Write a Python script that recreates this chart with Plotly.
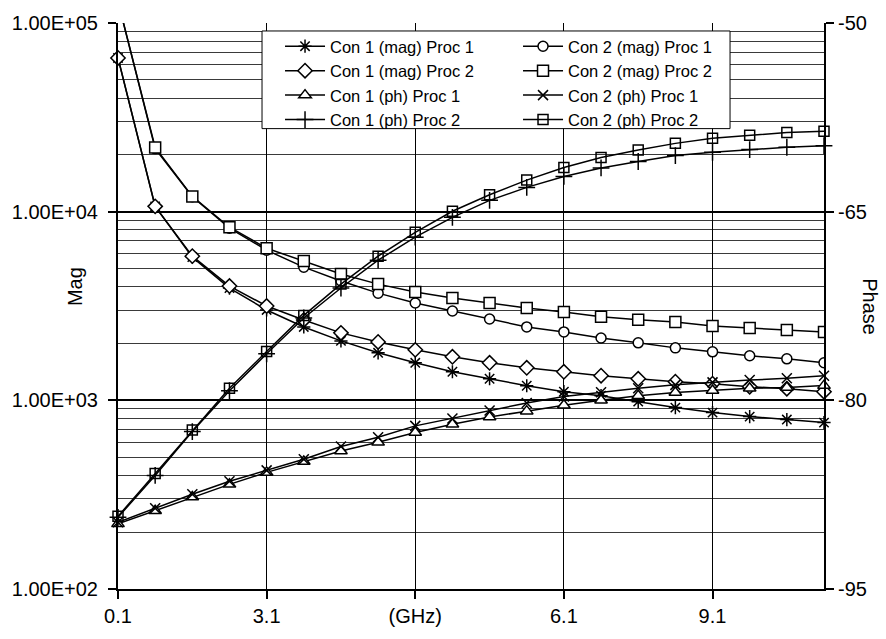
import plotly.graph_objects as go

# ---------------- data ----------------
n_points = 20
x_idx = list(range(n_points))
tick_idx = [0, 4, 8, 12, 16]
tick_labels = ["0.1", "3.1", "(GHz)", "6.1", "9.1"]

mag_ticks = [100, 1000, 10000, 100000]
mag_tick_labels = ["1.00E+02", "1.00E+03", "1.00E+04", "1.00E+05"]
mag_minor = [200, 300, 400, 500, 600, 700, 800, 900,
             2000, 3000, 4000, 5000, 6000, 7000, 8000, 9000,
             20000, 30000, 40000, 50000, 60000, 70000, 80000, 90000]
phase_ticks = [-95, -80, -65, -50]
phase_tick_labels = ["-95", "-80", "-65", "-50"]

con1_mag_proc1 = [65300, 10670, 5740, 3936, 3013, 2449, 2066, 1786, 1581, 1417,
                  1301, 1195, 1111, 1059, 984, 915, 861, 820, 791, 762]
con2_mag_proc1 = [130000, 21600, 12000, 8170, 6250, 5080, 4290, 3700, 3280, 2975,
                  2700, 2450, 2305, 2140, 2017, 1897, 1807, 1722, 1660, 1581]
con1_mag_proc2 = [65300, 10670, 5810, 4034, 3162, 2667, 2278, 2040, 1852, 1701,
                  1581, 1488, 1417, 1350, 1301, 1255, 1225, 1181, 1153, 1111]
con2_mag_proc2 = [130000, 21900, 12050, 8270, 6400, 5470, 4670, 4130, 3750, 3490,
                  3280, 3085, 2940, 2770, 2670, 2600, 2480, 2420, 2360, 2300]

con1_ph_proc1 = [-89.82, -88.78, -87.69, -86.68, -85.73, -84.86, -84.03, -83.34, -82.56, -81.90,
                 -81.33, -80.86, -80.39, -80.00, -79.63, -79.38, -79.22, -79.04, -78.98, -78.83]
con2_ph_proc1 = [-89.69, -88.58, -87.47, -86.44, -85.57, -84.68, -83.67, -82.94, -82.03, -81.44,
                 -80.81, -80.21, -79.69, -79.35, -79.04, -78.77, -78.57, -78.39, -78.25, -78.05]
con1_ph_proc2 = [-89.30, -85.97, -82.48, -79.24, -76.30, -73.45, -71.07, -68.86, -67.03, -65.45,
                 -64.10, -63.07, -62.20, -61.52, -61.01, -60.54, -60.28, -60.06, -59.88, -59.75]
con2_ph_proc2 = [-89.22, -85.81, -82.36, -79.04, -76.11, -73.25, -70.76, -68.54, -66.64, -64.97,
                 -63.66, -62.49, -61.49, -60.70, -60.09, -59.57, -59.17, -58.92, -58.71, -58.60]

FONT = "Liberation Sans, Arial, sans-serif"

# (name, values, axis, symbol, size, fill, clip, legend column)
series = [
    ("Con 1 (mag) Proc 1", con1_mag_proc1, "y", "asterisk-open", 11, "black", False, "legend"),
    ("Con 1 (mag) Proc 2", con1_mag_proc2, "y", "diamond", 11, "white", False, "legend"),
    ("Con 1 (ph) Proc 1", con1_ph_proc1, "y2", "triangle-up", 11, "white", False, "legend"),
    ("Con 1 (ph) Proc 2", con1_ph_proc2, "y2", "cross-thin-open", 12, "black", False, "legend"),
    ("Con 2 (mag) Proc 1", con2_mag_proc1, "y", "circle", 10, "white", True, "legend2"),
    ("Con 2 (mag) Proc 2", con2_mag_proc2, "y", "square", 11, "white", True, "legend2"),
    ("Con 2 (ph) Proc 1", con2_ph_proc1, "y2", "x-thin-open", 10, "black", False, "legend2"),
    ("Con 2 (ph) Proc 2", con2_ph_proc2, "y2", "square-open", 10, "black", False, "legend2"),
]

fig = go.Figure()
for name, vals, ax, sym, size, fill, clip, leg in series:
    fig.add_trace(go.Scatter(
        x=x_idx, y=vals, name=name, yaxis=ax, mode="lines+markers",
        line=dict(color="black", width=1.5),
        marker=dict(symbol=sym, size=size, color=fill,
                    line=dict(color="black", width=1.5)),
        cliponaxis=clip, legend=leg,
    ))

leg_common = dict(
    orientation="v", yanchor="top", xanchor="left",
    bgcolor="rgba(0,0,0,0)", borderwidth=0,
    font=dict(family=FONT, size=16.5, color="black"),
    itemwidth=40, traceorder="normal",
)

TICKFONT = dict(family=FONT, size=20, color="black")

fig.update_layout(
    width=886, height=639,
    margin=dict(l=118, r=62, t=22, b=49),
    paper_bgcolor="white", plot_bgcolor="white",
    font=dict(family=FONT, size=20, color="black"),
    showlegend=True,
    legend=dict(x=0.2295, y=0.9894, **leg_common),
    legend2=dict(x=0.5666, y=0.9894, **leg_common),
    shapes=[dict(type="rect", xref="paper", yref="paper",
                 x0=0.204, x1=0.8669, y0=0.8134, y1=0.9859,
                 fillcolor="white", line=dict(color="black", width=1), layer="above")],
    xaxis=dict(
        range=[0, n_points - 1], tickmode="array", tickvals=tick_idx, ticktext=tick_labels,
        showgrid=True, gridcolor="black", gridwidth=1,
        showline=True, linecolor="black", linewidth=2,
        ticks="outside", ticklen=8, tickcolor="black", tickwidth=1.5,
        zeroline=False, tickfont=TICKFONT,
    ),
    yaxis=dict(
        type="log", range=[2, 5], tickmode="array", tickvals=mag_ticks, ticktext=mag_tick_labels,
        showgrid=True, gridcolor="black", gridwidth=1.5,
        minor=dict(tickmode="array", tickvals=mag_minor, showgrid=True,
                   gridcolor="#3a3a3a", gridwidth=1, ticks=""),
        showline=True, linecolor="black", linewidth=2,
        ticks="outside", ticklen=8, tickcolor="black", tickwidth=1.5,
        ticklabelstandoff=6,
        zeroline=False, tickfont=TICKFONT,
    ),
    yaxis2=dict(
        overlaying="y", side="right", range=[-95, -50], tickmode="array",
        tickvals=phase_ticks, ticktext=phase_tick_labels,
        showgrid=False, showline=True, linecolor="black", linewidth=2,
        ticks="outside", ticklen=8, tickcolor="black", tickwidth=1.5,
        zeroline=False, tickfont=TICKFONT,
    ),
    annotations=[
        dict(text="Mag", xref="paper", yref="paper", x=-0.061, y=0.535, showarrow=False,
             xanchor="center", yanchor="middle", textangle=-90, font=dict(size=20)),
        dict(text="Phase", xref="paper", yref="paper", x=1.065, y=0.498, showarrow=False,
             xanchor="center", yanchor="middle", textangle=90, font=dict(size=20)),
    ],
)

fig.write_html("out.html")
